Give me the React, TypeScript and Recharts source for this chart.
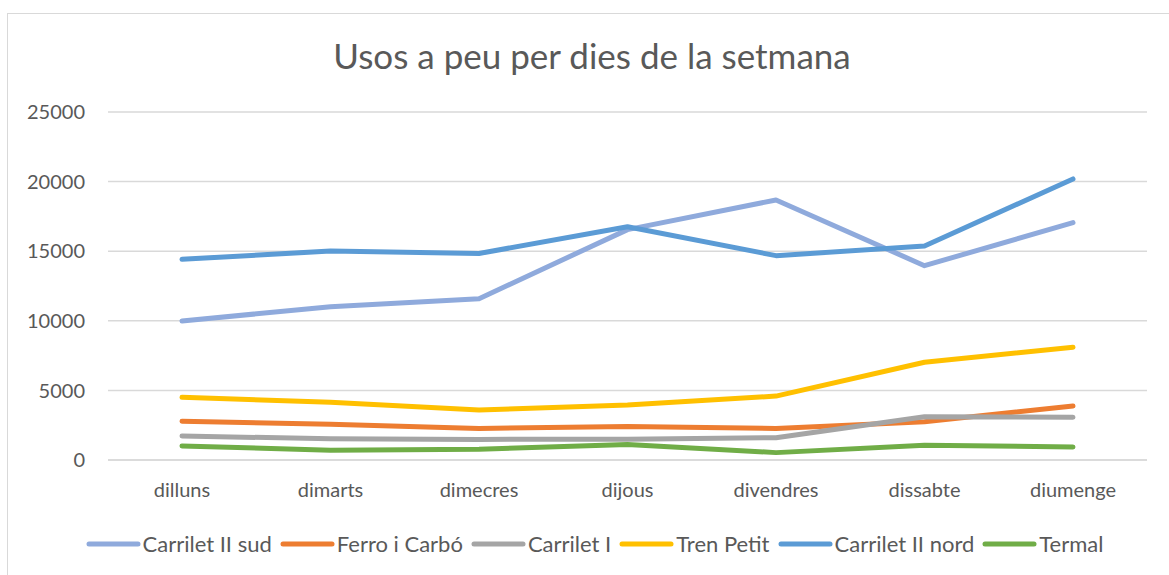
import React from 'react';
import { LineChart, Line, XAxis, YAxis, CartesianGrid, Legend } from 'recharts';

const days = ['dilluns', 'dimarts', 'dimecres', 'dijous', 'divendres', 'dissabte', 'diumenge'];

const carriletIISud = [9990, 11010, 11590, 16550, 18680, 13960, 17050];
const ferroICarbo = [2780, 2560, 2270, 2400, 2270, 2750, 3880];
const carriletI = [1720, 1530, 1480, 1490, 1600, 3110, 3070];
const trenPetit = [4500, 4140, 3590, 3950, 4590, 7020, 8100];
const carriletIINord = [14420, 15010, 14840, 16760, 14680, 15370, 20190];
const termal = [1010, 700, 770, 1120, 530, 1060, 940];

const yTicks = [0, 5000, 10000, 15000, 20000, 25000];

const series = [
  { key: 'sud', name: 'Carrilet II sud', values: carriletIISud, color: '#8FAADC' },
  { key: 'ferro', name: 'Ferro i Carbó', values: ferroICarbo, color: '#ED7D31' },
  { key: 'c1', name: 'Carrilet I', values: carriletI, color: '#A5A5A5' },
  { key: 'tren', name: 'Tren Petit', values: trenPetit, color: '#FFC000' },
  { key: 'nord', name: 'Carrilet II nord', values: carriletIINord, color: '#5B9BD5' },
  { key: 'termal', name: 'Termal', values: termal, color: '#70AD47' },
];

const data = days.map((day, i) => {
  const row: any = { day };
  series.forEach(s => { row[s.key] = s.values[i]; });
  return row;
});

const FONT = 'Lato, "Open Sans", sans-serif';
const TEXT = '#595959';
const order = series.map(s => s.name);

// legend with long flat line markers like Excel, kept in series order
const renderLegend = ({ payload }: any) => {
  const items = [...(payload || [])].sort((a: any, b: any) => order.indexOf(a.value) - order.indexOf(b.value));
  return (
    <div style={{ display: 'flex', justifyContent: 'center', alignItems: 'center', fontFamily: FONT, fontSize: 22, color: TEXT, paddingLeft: 50 }}>
      {items.map((p: any) => (
        <div key={p.value} style={{ display: 'flex', alignItems: 'center', marginRight: 8 }}>
          <svg width={55} height={10} style={{ marginRight: 2 }}>
            <line x1={3} y1={5} x2={52} y2={5} stroke={p.color} strokeWidth={5} strokeLinecap="round" />
          </svg>
          <span>{p.value}</span>
        </div>
      ))}
    </div>
  );
};

export default function App() {
  return (
    <div style={{ position: 'absolute', left: 0, top: 0, width: 1169, height: 575, overflow: 'hidden', background: '#fff' }}>
      <div style={{ position: 'absolute', left: 7, top: 13, width: 1200, height: 600, border: '1px solid #D9D9D9' }} />
      <div style={{ position: 'absolute', left: 0, top: 34, width: 1184, textAlign: 'center', fontFamily: FONT, fontSize: 35, color: TEXT }}>
        Usos a peu per dies de la setmana
      </div>
      <div style={{ position: 'absolute', left: 0, top: 0 }}>
        <LineChart width={1169} height={575} data={data} margin={{ top: 112, right: 22, left: 0, bottom: 14 }}>
          <CartesianGrid vertical={false} stroke="#D9D9D9" strokeWidth={1.5} />
          <XAxis
            dataKey="day"
            padding={{ left: 74, right: 74 }}
            axisLine={{ stroke: '#D9D9D9', strokeWidth: 1.5 }}
            tickLine={false}
            tickMargin={17}
            height={70}
            tick={{ fill: TEXT, fontSize: 20, fontFamily: FONT }}
          />
          <YAxis
            width={108}
            domain={[0, 25000]}
            ticks={yTicks}
            axisLine={false}
            tickLine={false}
            tickMargin={17}
            tick={{ fill: TEXT, fontSize: 20, fontFamily: FONT }}
          />
          <Legend verticalAlign="bottom" height={31} content={renderLegend} />
          {series.map(s => (
            <Line
              key={s.key}
              dataKey={s.key}
              name={s.name}
              stroke={s.color}
              strokeWidth={5}
              strokeLinecap="round"
              strokeLinejoin="round"
              dot={false}
              activeDot={false}
              type="linear"
              isAnimationActive={false}
            />
          ))}
        </LineChart>
      </div>
    </div>
  );
}
